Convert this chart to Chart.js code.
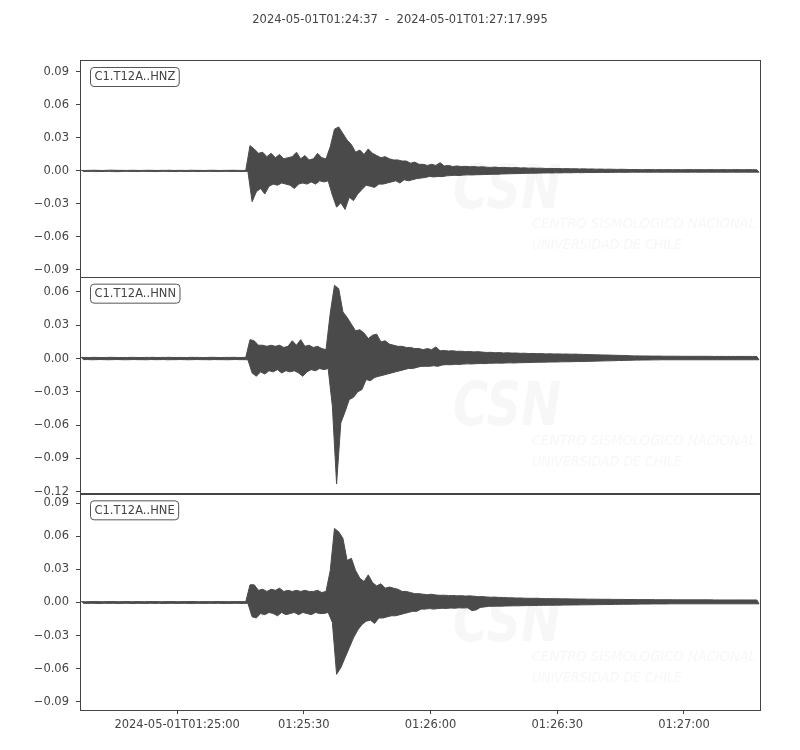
<!DOCTYPE html>
<html>
<head>
<meta charset="utf-8">
<title>C1.T12A seismogram</title>
<script src="https://cdn.jsdelivr.net/npm/chart.js@4.4.1/dist/chart.umd.min.js"></script>
<style>
  html, body { margin: 0; padding: 0; background: #fff; }
  #wrap { width: 800px; height: 750px; position: relative; }
</style>
</head>
<body>
<div id="wrap"><canvas id="traces"></canvas></div>
<script>
// Trace names, one per panel (top to bottom)
const traceLabels = ['C1.T12A..HNZ', 'C1.T12A..HNN', 'C1.T12A..HNE'];
const plotTitle = '2024-05-01T01:24:37  -  2024-05-01T01:27:17.995';

// Time axis: seconds after 01:24:37, window length 160.995 s
const windowSeconds = 160.995;
const xTickSeconds = [23, 53, 83, 113, 143];
const xTickLabels = ['2024-05-01T01:25:00', '01:25:30', '01:26:00', '01:26:30', '01:27:00'];

// Y ticks per panel
const zTicks = [-0.09, -0.06, -0.03, 0, 0.03, 0.06, 0.09];
const nTicks = [-0.12, -0.09, -0.06, -0.03, 0, 0.03, 0.06];
const eTicks = [-0.09, -0.06, -0.03, 0, 0.03, 0.06, 0.09];

// Amplitude envelope, one max/min pair per second
const zHigh = [
  0.0005,0.0004,0.0005,0.0006,0.0005,0.0004,0.0005,0.0007,0.0006,0.0005,
  0.0005,0.0004,0.0006,0.0005,0.0004,0.0005,0.0006,0.0005,0.0004,0.0005,
  0.0005,0.0006,0.0004,0.0005,0.0005,0.0004,0.0006,0.0005,0.0005,0.0004,
  0.0005,0.0006,0.0005,0.0004,0.0005,0.0005,0.0006,0.0005,0.0004,0.0005,
  0.023,0.020,0.016,0.017,0.013,0.016,0.012,0.015,0.011,0.012,
  0.013,0.017,0.011,0.014,0.010,0.011,0.016,0.012,0.011,0.022,
  0.038,0.040,0.034,0.028,0.024,0.017,0.019,0.015,0.020,0.016,
  0.014,0.012,0.013,0.011,0.010,0.010,0.009,0.009,0.007,0.008,
  0.006,0.006,0.005,0.006,0.005,0.0075,0.0045,0.005,0.004,0.0045,
  0.004,0.0042,0.0038,0.004,0.0035,0.0038,0.0034,0.0032,0.0035,0.003,
  0.0032,0.003,0.0028,0.003,0.0027,0.0028,0.0025,0.0026,0.0024,0.0025,
  0.0022,0.0023,0.0021,0.0022,0.002,0.0021,0.0019,0.002,0.0018,0.0019,
  0.0017,0.0018,0.0016,0.0017,0.0015,0.0016,0.0015,0.0014,0.0015,0.0014,
  0.0012,0.0013,0.0012,0.0011,0.0012,0.0012,0.0011,0.0012,0.0011,0.0012,
  0.0011,0.0012,0.0011,0.0011,0.0012,0.0011,0.0012,0.0011,0.0011,0.0012,
  0.0011,0.0011,0.0012,0.0011,0.0011,0.0012,0.0011,0.0011,0.0012,0.0011,
  0.0011
];
const zLow = [
  -0.0005,-0.0005,-0.0004,-0.0006,-0.0005,-0.0005,-0.0004,-0.0006,-0.0007,-0.0005,
  -0.0004,-0.0005,-0.0005,-0.0006,-0.0004,-0.0005,-0.0005,-0.0006,-0.0005,-0.0004,
  -0.0005,-0.0005,-0.0006,-0.0004,-0.0005,-0.0005,-0.0004,-0.0006,-0.0005,-0.0005,
  -0.0004,-0.0005,-0.0006,-0.0005,-0.0004,-0.0005,-0.0005,-0.0006,-0.0005,-0.0004,
  -0.028,-0.019,-0.016,-0.021,-0.014,-0.012,-0.013,-0.011,-0.012,-0.013,
  -0.016,-0.012,-0.011,-0.012,-0.010,-0.012,-0.009,-0.010,-0.009,-0.022,
  -0.033,-0.029,-0.035,-0.024,-0.027,-0.021,-0.017,-0.013,-0.014,-0.015,
  -0.012,-0.012,-0.011,-0.010,-0.009,-0.011,-0.008,-0.009,-0.008,-0.007,
  -0.0065,-0.006,-0.005,-0.0055,-0.005,-0.0052,-0.0045,-0.0042,-0.004,-0.0042,
  -0.0038,-0.0036,-0.0037,-0.0035,-0.0034,-0.0033,-0.0032,-0.003,-0.0031,-0.0028,
  -0.0027,-0.0026,-0.0025,-0.0024,-0.0023,-0.0022,-0.0021,-0.0021,-0.002,-0.0019,
  -0.0018,-0.0019,-0.0017,-0.0018,-0.0016,-0.0017,-0.0016,-0.0015,-0.0016,-0.0015,
  -0.0014,-0.0015,-0.0014,-0.0013,-0.0014,-0.0013,-0.0013,-0.0012,-0.0013,-0.0012,
  -0.0011,-0.0012,-0.0011,-0.0011,-0.0012,-0.0011,-0.0011,-0.0012,-0.0011,-0.0011,
  -0.0012,-0.0011,-0.0011,-0.0012,-0.0011,-0.0011,-0.0012,-0.0011,-0.0011,-0.0012,
  -0.0011,-0.0011,-0.0012,-0.0011,-0.0011,-0.0012,-0.0011,-0.0011,-0.0012,-0.0011,
  -0.0011
];
const nHigh = [
  0.0009,0.0010,0.0009,0.0011,0.0010,0.0009,0.0010,0.0011,0.0010,0.0009,
  0.0010,0.0009,0.0011,0.0010,0.0009,0.0010,0.0010,0.0011,0.0009,0.0010,
  0.0010,0.0011,0.0009,0.0010,0.0010,0.0009,0.0011,0.0010,0.0010,0.0009,
  0.0010,0.0011,0.0010,0.0009,0.0010,0.0010,0.0011,0.0010,0.0009,0.0011,
  0.017,0.016,0.012,0.012,0.011,0.012,0.011,0.012,0.010,0.011,
  0.016,0.012,0.017,0.011,0.012,0.010,0.011,0.009,0.008,0.041,
  0.066,0.063,0.042,0.037,0.031,0.025,0.026,0.023,0.018,0.021,
  0.022,0.015,0.016,0.013,0.012,0.011,0.011,0.010,0.010,0.009,
  0.009,0.008,0.009,0.008,0.0105,0.007,0.0072,0.0068,0.007,0.0065,
  0.0066,0.0062,0.0064,0.006,0.0062,0.0058,0.0055,0.0056,0.0052,0.0054,
  0.005,0.0052,0.0049,0.005,0.0047,0.0048,0.0045,0.0046,0.0044,0.0045,
  0.0042,0.0043,0.0041,0.0042,0.004,0.0041,0.0039,0.004,0.0038,0.0037,
  0.0036,0.0035,0.0034,0.0033,0.0032,0.0031,0.003,0.0029,0.0028,0.0027,
  0.0025,0.0024,0.0024,0.0023,0.0023,0.0022,0.0022,0.0022,0.0021,0.0021,
  0.0021,0.0021,0.002,0.002,0.002,0.002,0.002,0.002,0.002,0.002,
  0.0019,0.0019,0.0019,0.0019,0.0019,0.0019,0.0019,0.0019,0.0019,0.0019,
  0.0019
];
const nLow = [
  -0.0010,-0.0009,-0.0011,-0.0010,-0.0009,-0.0010,-0.0011,-0.0010,-0.0009,-0.0010,
  -0.0011,-0.0010,-0.0009,-0.0010,-0.0010,-0.0011,-0.0009,-0.0010,-0.0010,-0.0009,
  -0.0011,-0.0010,-0.0010,-0.0009,-0.0010,-0.0011,-0.0010,-0.0009,-0.0010,-0.0010,
  -0.0011,-0.0009,-0.0010,-0.0010,-0.0011,-0.0010,-0.0009,-0.0010,-0.0010,-0.0011,
  -0.013,-0.016,-0.012,-0.014,-0.011,-0.012,-0.010,-0.013,-0.011,-0.012,
  -0.011,-0.013,-0.016,-0.012,-0.010,-0.011,-0.009,-0.010,-0.009,-0.043,
  -0.113,-0.058,-0.048,-0.037,-0.035,-0.030,-0.028,-0.019,-0.020,-0.017,
  -0.016,-0.015,-0.014,-0.013,-0.012,-0.011,-0.010,-0.009,-0.009,-0.008,
  -0.007,-0.007,-0.007,-0.0065,-0.007,-0.0058,-0.0055,-0.0056,-0.0052,-0.0053,
  -0.005,-0.0048,-0.0049,-0.0046,-0.0045,-0.0046,-0.0043,-0.0042,-0.0041,-0.0042,
  -0.004,-0.0039,-0.004,-0.0038,-0.0037,-0.0036,-0.0035,-0.0034,-0.0033,-0.0033,
  -0.0032,-0.0031,-0.0031,-0.003,-0.0029,-0.0029,-0.0028,-0.0027,-0.0027,-0.0026,
  -0.0025,-0.0024,-0.0023,-0.0022,-0.0021,-0.002,-0.0019,-0.0018,-0.0017,-0.0016,
  -0.0015,-0.0014,-0.0014,-0.0013,-0.0013,-0.0012,-0.0012,-0.0011,-0.0011,-0.0011,
  -0.0011,-0.0011,-0.0011,-0.0011,-0.0011,-0.0011,-0.0011,-0.0011,-0.0011,-0.0011,
  -0.0011,-0.0011,-0.0011,-0.0011,-0.0011,-0.0011,-0.0011,-0.0011,-0.0011,-0.0011,
  -0.0011
];
const eHigh = [
  0.0008,0.0007,0.0008,0.0009,0.0008,0.0007,0.0008,0.0009,0.0008,0.0007,
  0.0008,0.0009,0.0007,0.0008,0.0008,0.0007,0.0009,0.0008,0.0008,0.0007,
  0.0008,0.0009,0.0008,0.0007,0.0008,0.0008,0.0009,0.0008,0.0007,0.0008,
  0.0008,0.0007,0.0009,0.0008,0.0008,0.0007,0.0008,0.0009,0.0008,0.0008,
  0.016,0.016,0.011,0.012,0.010,0.012,0.011,0.013,0.010,0.011,
  0.010,0.011,0.010,0.011,0.010,0.010,0.011,0.009,0.010,0.029,
  0.067,0.064,0.058,0.038,0.040,0.029,0.022,0.019,0.025,0.018,
  0.015,0.017,0.013,0.014,0.013,0.012,0.010,0.010,0.009,0.008,
  0.008,0.0075,0.007,0.0075,0.0068,0.0065,0.0066,0.0062,0.0064,0.006,
  0.0062,0.0058,0.006,0.0057,0.0052,0.0054,0.005,0.0048,0.0049,0.0046,
  0.0045,0.0043,0.0042,0.004,0.0041,0.0039,0.0038,0.0037,0.0038,0.0036,
  0.0035,0.0035,0.0034,0.0034,0.0033,0.0033,0.0032,0.0032,0.0031,0.0031,
  0.003,0.003,0.003,0.0029,0.0029,0.0029,0.0028,0.0028,0.0028,0.0027,
  0.0027,0.0027,0.0026,0.0026,0.0026,0.0026,0.0025,0.0025,0.0025,0.0025,
  0.0025,0.0024,0.0024,0.0024,0.0024,0.0024,0.0024,0.0024,0.0024,0.0024,
  0.0023,0.0023,0.0023,0.0023,0.0023,0.0023,0.0023,0.0023,0.0023,0.0023,
  0.0023
];
const eLow = [
  -0.0007,-0.0008,-0.0007,-0.0008,-0.0009,-0.0007,-0.0008,-0.0007,-0.0008,-0.0008,
  -0.0007,-0.0008,-0.0009,-0.0007,-0.0008,-0.0008,-0.0007,-0.0008,-0.0007,-0.0009,
  -0.0008,-0.0007,-0.0008,-0.0008,-0.0007,-0.0009,-0.0008,-0.0007,-0.0008,-0.0008,
  -0.0007,-0.0008,-0.0007,-0.0009,-0.0008,-0.0008,-0.0007,-0.0008,-0.0008,-0.0007,
  -0.013,-0.014,-0.010,-0.011,-0.009,-0.010,-0.012,-0.009,-0.011,-0.010,
  -0.009,-0.011,-0.009,-0.010,-0.011,-0.009,-0.010,-0.010,-0.009,-0.018,
  -0.065,-0.059,-0.050,-0.041,-0.032,-0.025,-0.020,-0.017,-0.016,-0.019,
  -0.014,-0.014,-0.013,-0.012,-0.012,-0.011,-0.010,-0.009,-0.008,-0.008,
  -0.006,-0.006,-0.0055,-0.006,-0.0055,-0.0052,-0.0054,-0.005,-0.0052,-0.0048,
  -0.005,-0.0048,-0.0073,-0.0068,-0.0045,-0.004,-0.0035,-0.0034,-0.0033,-0.0033,
  -0.0032,-0.0031,-0.003,-0.003,-0.0029,-0.0028,-0.0028,-0.0027,-0.0026,-0.0026,
  -0.0025,-0.0025,-0.0024,-0.0024,-0.0023,-0.0023,-0.0022,-0.0022,-0.0021,-0.0021,
  -0.002,-0.002,-0.0019,-0.0019,-0.0018,-0.0018,-0.0017,-0.0017,-0.0016,-0.0016,
  -0.0015,-0.0015,-0.0014,-0.0014,-0.0014,-0.0013,-0.0013,-0.0013,-0.0013,-0.0012,
  -0.0012,-0.0012,-0.0012,-0.0012,-0.0012,-0.0012,-0.0012,-0.0012,-0.0012,-0.0012,
  -0.0012,-0.0012,-0.0012,-0.0012,-0.0012,-0.0012,-0.0012,-0.0012,-0.0012,-0.0012,
  -0.0012
];

const INK = '#444444';
const TRACE = '#4a4a4a';

// closed outline: max envelope left->right, min envelope right->left.
// within each second the max sits a little before the min.
function envelope(high, low) {
    const pts = [];
    for (let i = 0; i < high.length; i++) {
        pts.push({ x: i + 0.25, y: high[i] });
    }
    for (let i = low.length - 1; i >= 0; i--) {
        pts.push({ x: i + 0.75, y: low[i] });
    }
    return pts;
}

function fmtTick(v) {
    return v.toFixed(2).replace('-', '\u2212');
}

function yScale(ticks, min, max) {
    return {
        type: 'linear',
        position: 'left',
        stack: 'traces',
        stackWeight: 1,
        offset: false,
        min: min,
        max: max,
        afterBuildTicks: (scale) => { scale.ticks = ticks.map(v => ({ value: v })); },
        afterFit: (scale) => { scale.width = 80; },
        grid: { drawOnChartArea: false, drawTicks: true, tickLength: 4, color: INK },
        border: { display: true, color: INK, width: 1 },
        ticks: { padding: 7, color: INK, callback: (v) => fmtTick(v) }
    };
}

const panelIds = ['yZ', 'yN', 'yE'];

// panel frames, station boxes, title, faint CSN watermark
const decorations = {
    id: 'decorations',
    beforeDatasetsDraw(chart) {
        const ctx = chart.ctx;
        const area = chart.chartArea;
        ctx.save();
        ctx.fillStyle = '#f7f7f7';
        ctx.textAlign = 'left';
        ctx.textBaseline = 'alphabetic';
        panelIds.forEach(id => {
            const s = chart.scales[id];
            ctx.font = 'italic bold 60px "DejaVu Sans"';
            ctx.fillText('CSN', area.left + 373, s.top + 148, 108);
            ctx.font = 'italic 14px "DejaVu Sans"';
            ctx.fillText('CENTRO SISMOLOGICO NACIONAL', area.left + 452, s.top + 168, 224);
            ctx.fillText('UNIVERSIDAD DE CHILE', area.left + 452, s.top + 189, 150);
        });
        ctx.restore();
    },
    afterDraw(chart) {
        const ctx = chart.ctx;
        const area = chart.chartArea;
        ctx.save();
        ctx.lineWidth = 1;
        panelIds.forEach((id, k) => {
            const s = chart.scales[id];
            ctx.strokeStyle = INK;
            ctx.strokeRect(Math.round(area.left) + 0.5, Math.round(s.top) + 0.5,
                Math.round(area.right - area.left), Math.round(s.bottom - s.top));

            // station label box
            ctx.font = '11.5px "DejaVu Sans"';
            const w = ctx.measureText(traceLabels[k]).width;
            const bx = area.left + 10.5, by = s.top + 7.5, bw = w + 8, bh = 19;
            ctx.beginPath();
            ctx.roundRect(bx, by, bw, bh, 3.5);
            ctx.fillStyle = '#ffffff';
            ctx.fill();
            ctx.strokeStyle = '#555555';
            ctx.stroke();
            ctx.fillStyle = INK;
            ctx.textAlign = 'left';
            ctx.textBaseline = 'middle';
            ctx.fillText(traceLabels[k], bx + 4, by + bh / 2 + 0.5);
        });
        ctx.font = '11.5px "DejaVu Sans"';
        ctx.fillStyle = INK;
        ctx.textAlign = 'center';
        ctx.textBaseline = 'middle';
        ctx.fillText(plotTitle, 400, 20);
        ctx.restore();
    }
};

Chart.defaults.font.family = '"DejaVu Sans", sans-serif';
Chart.defaults.font.size = 11.5;
Chart.defaults.color = INK;

const traceStyle = {
    borderColor: TRACE,
    backgroundColor: TRACE,
    borderWidth: 1,
    pointRadius: 0,
    tension: 0,
    fill: 'shape'
};

new Chart(document.getElementById('traces'), {
    type: 'line',
    data: {
        datasets: [
            Object.assign({ label: traceLabels[0], data: envelope(zHigh, zLow), yAxisID: 'yZ' }, traceStyle),
            Object.assign({ label: traceLabels[1], data: envelope(nHigh, nLow), yAxisID: 'yN' }, traceStyle),
            Object.assign({ label: traceLabels[2], data: envelope(eHigh, eLow), yAxisID: 'yE' }, traceStyle)
        ]
    },
    options: {
        responsive: true,
        maintainAspectRatio: false,
        animation: false,
        events: [],
        layout: { padding: { top: 60, right: 40, left: 0, bottom: 0 } },
        plugins: {
            legend: { display: false },
            tooltip: { enabled: false },
            title: { display: false }
        },
        scales: {
            x: {
                type: 'linear',
                position: 'bottom',
                min: 0,
                max: windowSeconds,
                afterBuildTicks: (scale) => { scale.ticks = xTickSeconds.map(v => ({ value: v })); },
                afterFit: (scale) => { scale.height = 40; },
                grid: { drawOnChartArea: false, drawTicks: true, tickLength: 4, color: INK },
                border: { display: true, color: INK, width: 1 },
                ticks: {
                    autoSkip: false,
                    maxRotation: 0,
                    padding: 4,
                    color: INK,
                    callback: (v, i) => xTickLabels[i]
                }
            },
            // stacked axes are laid out bottom-up, so the lowest panel comes first
            yE: yScale(eTicks, -0.0973, 0.0988),
            yN: yScale(nTicks, -0.1215, 0.0738),
            yZ: yScale(zTicks, -0.0962, 0.1009)
        }
    },
    plugins: [decorations]
});
</script>
</body>
</html>
